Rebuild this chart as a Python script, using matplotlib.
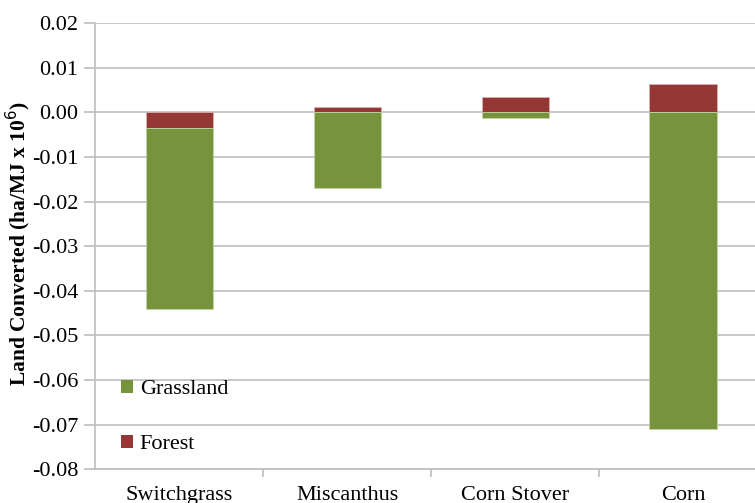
import numpy as np
import matplotlib.pyplot as plt
from matplotlib.patches import Patch

plt.rcParams['font.family'] = ['Liberation Serif', 'DejaVu Serif']
plt.rcParams['axes.unicode_minus'] = False

C_GRASS = '#77933c'
C_FOREST = '#953735'
C_GRID = '#bebebe'

crops = ['Switchgrass', 'Miscanthus', 'Corn Stover', 'Corn']
forest = [-0.0034, 0.0012, 0.0035, 0.0064]
grassland = [-0.0407, -0.0169, -0.0012, -0.0710]
yticks = [0.02, 0.01, 0.00, -0.01, -0.02, -0.03, -0.04, -0.05, -0.06, -0.07, -0.08]


def main():
    fig = plt.figure(figsize=(7.55, 5.03), dpi=100)
    ax = fig.add_axes([0.126, 0.067, 0.89, 0.887])

    x = np.arange(len(crops))
    f = np.array(forest)
    g = np.array(grassland)

    # Excel-style stacking: forest sits next to zero, grassland stacks below any negative forest
    ax.bar(x, f, width=0.4, color=C_FOREST, edgecolor='#d9b0af', linewidth=0.6, zorder=3)
    g_bottom = np.where(f < 0, f, 0)
    ax.bar(x, g, bottom=g_bottom, width=0.4, color=C_GRASS, edgecolor='#c3d3a3',
           linewidth=0.6, zorder=3)

    ax.set_xlim(-0.5, 3.5)
    ax.set_ylim(-0.08, 0.02)
    ax.set_yticks(yticks)
    ax.set_yticklabels([f'{v:.2f}' for v in yticks], fontsize=16)
    ax.yaxis.grid(True, color=C_GRID, linewidth=1.2, zorder=0)
    ax.set_axisbelow(True)

    # category labels centered, tick marks on the boundaries
    ax.set_xticks(x)
    ax.set_xticklabels(crops, fontsize=16)
    ax.tick_params(axis='x', length=0, pad=12)
    ax.set_xticks(np.arange(0.5, len(crops)), minor=True)
    ax.tick_params(axis='x', which='minor', length=6, color=C_GRID, width=1.2)
    ax.tick_params(axis='y', length=8, color=C_GRID, width=1.2, pad=4)

    for side in ['top', 'right']:
        ax.spines[side].set_visible(False)
    for side in ['left', 'bottom']:
        ax.spines[side].set_color(C_GRID)
        ax.spines[side].set_linewidth(1.2)

    ax.set_ylabel('Land Converted (ha/MJ x 10$^6$)', fontsize=15.5, fontweight='bold')
    ax.yaxis.set_label_coords(-0.092, 0.505)

    handles = [Patch(facecolor=C_GRASS, label='Grassland'),
               Patch(facecolor=C_FOREST, label='Forest')]
    ax.legend(handles=handles, loc='upper left', bbox_to_anchor=(0.025, 0.221), frameon=False,
              fontsize=16, handlelength=0.55, handleheight=0.55, handletextpad=0.3,
              labelspacing=1.6, borderaxespad=0)

    fig.savefig('out.png', dpi=100, facecolor='white')


if __name__ == '__main__':
    main()
